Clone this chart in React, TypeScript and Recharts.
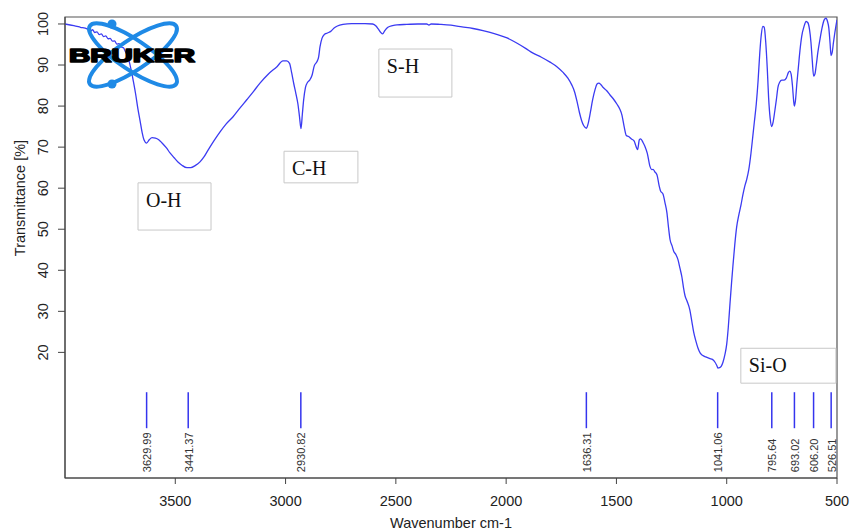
import { ComposedChart, Line, Scatter, XAxis, YAxis, ReferenceArea } from 'recharts';

// FTIR spectrum (wavenumber cm-1 / transmittance %)
const wavenumbers = [
  4000, 3960, 3930, 3900, 3885, 3875, 3865, 3855, 3845, 3835, 3825, 3815, 3805, 3795,
  3785, 3775, 3765, 3755, 3745, 3735, 3725, 3715, 3705, 3697, 3690, 3680, 3670, 3660,
  3650, 3642, 3630, 3618, 3605, 3590, 3575, 3560, 3540, 3524, 3505, 3488, 3470, 3447,
  3430, 3410, 3388, 3370, 3352, 3325, 3297, 3270, 3238, 3210, 3175, 3145, 3116, 3080,
  3039, 3012, 2995, 2982, 2972, 2963, 2953, 2944, 2937, 2930, 2924, 2918, 2910, 2900,
  2890, 2880, 2870, 2858, 2850, 2844, 2835, 2825, 2810, 2795, 2780, 2765, 2740, 2700,
  2640, 2605, 2590, 2580, 2568, 2560, 2550, 2536, 2515, 2495, 2450, 2400, 2360, 2350,
  2340, 2300, 2250, 2200, 2150, 2105, 2050, 1996, 1950, 1910, 1878, 1840, 1801, 1770,
  1742, 1720, 1702, 1690, 1679, 1668, 1658, 1648, 1636, 1628, 1618, 1608, 1597, 1588,
  1580, 1570, 1561, 1545, 1529, 1512, 1498, 1485, 1475, 1465, 1455, 1445, 1432, 1420,
  1410, 1404, 1396, 1390, 1380, 1371, 1360, 1348, 1340, 1334, 1326, 1316, 1306, 1300,
  1289, 1280, 1271, 1264, 1257, 1248, 1240, 1230, 1221, 1212, 1203, 1196, 1189, 1180,
  1167, 1158, 1150, 1140, 1130, 1120, 1110, 1095, 1076, 1065, 1053, 1045, 1040, 1032,
  1025, 1017, 1008, 1000, 993, 985, 978, 972, 963, 955, 945, 935, 927, 918,
  909, 900, 890, 882, 875, 866, 858, 850, 843, 836, 830, 823, 816, 810,
  803, 796, 790, 782, 775, 768, 760, 750, 740, 730, 720, 714, 708, 702,
  696, 693, 688, 682, 675, 668, 660, 650, 640, 632, 625, 618, 612, 606,
  600, 594, 587, 578, 568, 558, 550, 543, 537, 531, 527, 522, 516, 510,
  505, 500,
];
const transmittance = [
  100.0, 99.6, 99.2, 98.8, 98.2, 98.6, 97.9, 98.1, 97.4, 97.6, 96.9, 97.1, 96.4, 96.5,
  95.8, 95.9, 95.1, 95.2, 94.4, 94.2, 93.1, 92.0, 90.0, 88.0, 86.0, 83.0, 79.5, 76.5,
  73.5, 71.8, 71.0, 71.8, 72.3, 72.2, 71.8, 71.0, 69.8, 68.6, 67.4, 66.4, 65.6, 65.0,
  65.0, 65.5, 66.4, 67.6, 69.2, 71.5, 73.7, 75.6, 77.4, 79.3, 81.6, 83.6, 85.6, 87.7,
  89.6, 91.0, 91.0, 90.4, 88.0, 85.5, 83.0, 80.5, 77.5, 74.5, 78.0, 81.5, 84.5, 85.8,
  86.4, 87.5, 89.8, 90.8, 92.0, 94.4, 96.5, 97.4, 97.8, 98.2, 99.0, 99.5, 99.9, 100.1,
  100.1, 100.0, 99.5, 98.8, 97.9, 97.6, 98.4, 99.2, 99.6, 99.8, 99.9, 100.0, 100.0, 99.7,
  100.0, 99.9, 99.7, 99.3, 98.9, 98.4, 97.6, 96.6, 95.3, 94.0, 92.9, 91.9, 90.7, 89.6,
  88.2, 86.8, 85.1, 83.5, 81.2, 78.5, 76.5, 75.2, 74.6, 75.8, 78.5, 81.5, 84.0, 85.4,
  85.6, 85.2, 84.6, 83.8, 82.7, 81.6, 80.5, 79.3, 77.8, 75.0, 72.8, 72.6, 72.0, 71.5,
  70.0, 69.4, 71.8, 72.0, 71.2, 70.2, 68.5, 65.3, 64.5, 64.6, 64.0, 63.2, 60.5, 59.3,
  58.6, 56.5, 54.0, 50.5, 47.5, 46.0, 44.6, 43.8, 42.6, 40.5, 38.3, 35.8, 33.8, 32.5,
  30.3, 27.5, 25.0, 22.8, 21.0, 19.8, 19.3, 18.9, 18.5, 18.3, 17.6, 16.8, 16.2, 16.3,
  16.6, 17.6, 19.5, 22.0, 26.0, 32.0, 37.0, 41.0, 46.5, 50.5, 53.5, 56.0, 58.3, 60.5,
  62.2, 64.5, 68.5, 72.5, 76.0, 80.5, 86.0, 93.0, 97.5, 99.4, 99.2, 95.5, 89.0, 82.0,
  77.0, 75.0, 76.0, 78.8, 81.5, 84.5, 85.8, 86.3, 86.3, 86.8, 88.2, 88.5, 87.8, 85.0,
  81.0, 80.0, 81.5, 85.5, 89.5, 93.5, 97.0, 99.3, 100.6, 100.3, 98.8, 95.5, 91.0, 87.3,
  87.8, 90.0, 93.0, 96.0, 99.0, 101.0, 101.4, 100.6, 99.0, 95.0, 92.3, 93.0, 95.5, 97.8,
  99.5, 101.0,
];

// picked peaks
const peakPositions = [3629.99, 3441.37, 2930.82, 1636.31, 1041.06, 795.64, 693.02, 606.2, 526.51];
const peakLabels = ['3629.99', '3441.37', '2930.82', '1636.31', '1041.06', '795.64', '693.02', '606.20', '526.51'];
const peakMarkTop = 10.3;

// band annotations (boxes in data units)
const bandNames = ['O-H', 'C-H', 'S-H', 'Si-O'];
const bandLeft = [3669, 3007, 2577, 936];
const bandRight = [3338, 2672, 2246, 505];
const bandTop = [61.3, 69.0, 93.9, 21.0];
const bandBottom = [49.8, 61.3, 82.2, 12.5];

const xTicks = [3500, 3000, 2500, 2000, 1500, 1000, 500];
const yTicks = [20, 30, 40, 50, 60, 70, 80, 90, 100];

const spectrum = wavenumbers.map((w, i) => ({ w, t: transmittance[i] }));
const peaks = peakPositions.map((w, i) => ({ w, y: peakMarkTop, label: peakLabels[i] }));

const SANS = '"Liberation Sans", Arial, sans-serif';
const SERIF = '"Liberation Serif", "Times New Roman", serif';
const LINE_BLUE = '#3b3bf2';

const YTick = ({ x, y, payload }: any) => (
  <text
    transform={`translate(${x - 8},${y}) rotate(-90)`}
    textAnchor="middle"
    fontSize={14.5}
    fontFamily={SANS}
    fill="#222"
  >
    {payload.value}
  </text>
);

const PeakMark = ({ cx, cy, payload }: any) => (
  <g>
    <line x1={cx} y1={cy} x2={cx} y2={cy + 36} stroke="#3434ee" strokeWidth={1.5} />
    <text
      transform={`translate(${cx + 4.5},${cy + 80}) rotate(-90)`}
      fontSize={11}
      fontFamily={SANS}
      fill="#333"
    >
      {payload.label}
    </text>
  </g>
);

const BandText = ({ viewBox, text }: any) => (
  <text x={viewBox.x + 8} y={viewBox.y + 24} fontSize={20} fontFamily={SERIF} fill="#111">
    {text}
  </text>
);

function BrukerLogo() {
  return (
    <svg width={200} height={95} style={{ position: 'absolute', left: 0, top: 0 }}>
      <g fill="none" stroke="#1f8ae6" strokeWidth={4}>
        <ellipse cx={133} cy={55} rx={52} ry={15} transform="rotate(34 133 55)" />
        <ellipse cx={133} cy={55} rx={52} ry={15} transform="rotate(-34 133 55)" />
      </g>
      <circle cx={112} cy={24} r={4.5} fill="#1f8ae6" />
      <circle cx={112} cy={84} r={4.5} fill="#1f8ae6" />
      <text
        x={69}
        y={62}
        fontSize={19}
        fontWeight={700}
        fontFamily={SANS}
        textLength={126}
        lengthAdjust="spacingAndGlyphs"
        fill="#000"
        stroke="#000"
        strokeWidth={1.6}
        strokeLinejoin="round"
      >
        BRUKER
      </text>
    </svg>
  );
}

export default function App() {
  return (
    <div style={{ position: 'relative', width: 850, height: 532, background: '#fff' }}>
      <style>{'body{margin:0}'}</style>
      <ComposedChart
        width={850}
        height={532}
        data={spectrum}
        margin={{ top: 17, right: 13, bottom: 0, left: 0 }}
      >
        <XAxis
          dataKey="w"
          type="number"
          domain={[500, 4000]}
          reversed
          allowDataOverflow
          ticks={xTicks}
          height={54}
          tickSize={6}
          tickMargin={12}
          tick={{ fontSize: 14.5, fontFamily: SANS, fill: '#222' }}
          stroke="#444"
          label={{
            value: 'Wavenumber cm-1',
            position: 'insideBottom',
            offset: 4,
            fontSize: 14.5,
            fontFamily: SANS,
            fill: '#222',
          }}
        />
        <YAxis
          type="number"
          domain={[-10.6, 101.7]}
          allowDataOverflow
          ticks={yTicks}
          width={65}
          tickSize={7}
          tick={<YTick />}
          stroke="#444"
          label={{
            content: () => (
              <text
                transform="translate(25,198) rotate(-90)"
                textAnchor="middle"
                fontSize={14.5}
                fontFamily={SANS}
                fill="#222"
              >
                Transmittance [%]
              </text>
            ),
          }}
        />
        <ReferenceArea
          x1={4000}
          x2={500}
          y1={-10.6}
          y2={101.7}
          fill="none"
          stroke="#555"
          strokeWidth={1.2}
        />
        {bandNames.map((name, i) => (
          <ReferenceArea
            key={name}
            x1={bandLeft[i]}
            x2={bandRight[i]}
            y1={bandBottom[i]}
            y2={bandTop[i]}
            fill="#fff"
            fillOpacity={1}
            stroke="#c8c8c8"
            strokeWidth={1}
            label={<BandText text={name} />}
          />
        ))}
        <Line
          dataKey="t"
          type="monotone"
          stroke={LINE_BLUE}
          strokeWidth={1.3}
          dot={false}
          isAnimationActive={false}
        />
        <Scatter data={peaks} dataKey="y" shape={<PeakMark />} isAnimationActive={false} />
      </ComposedChart>
      <BrukerLogo />
    </div>
  );
}
